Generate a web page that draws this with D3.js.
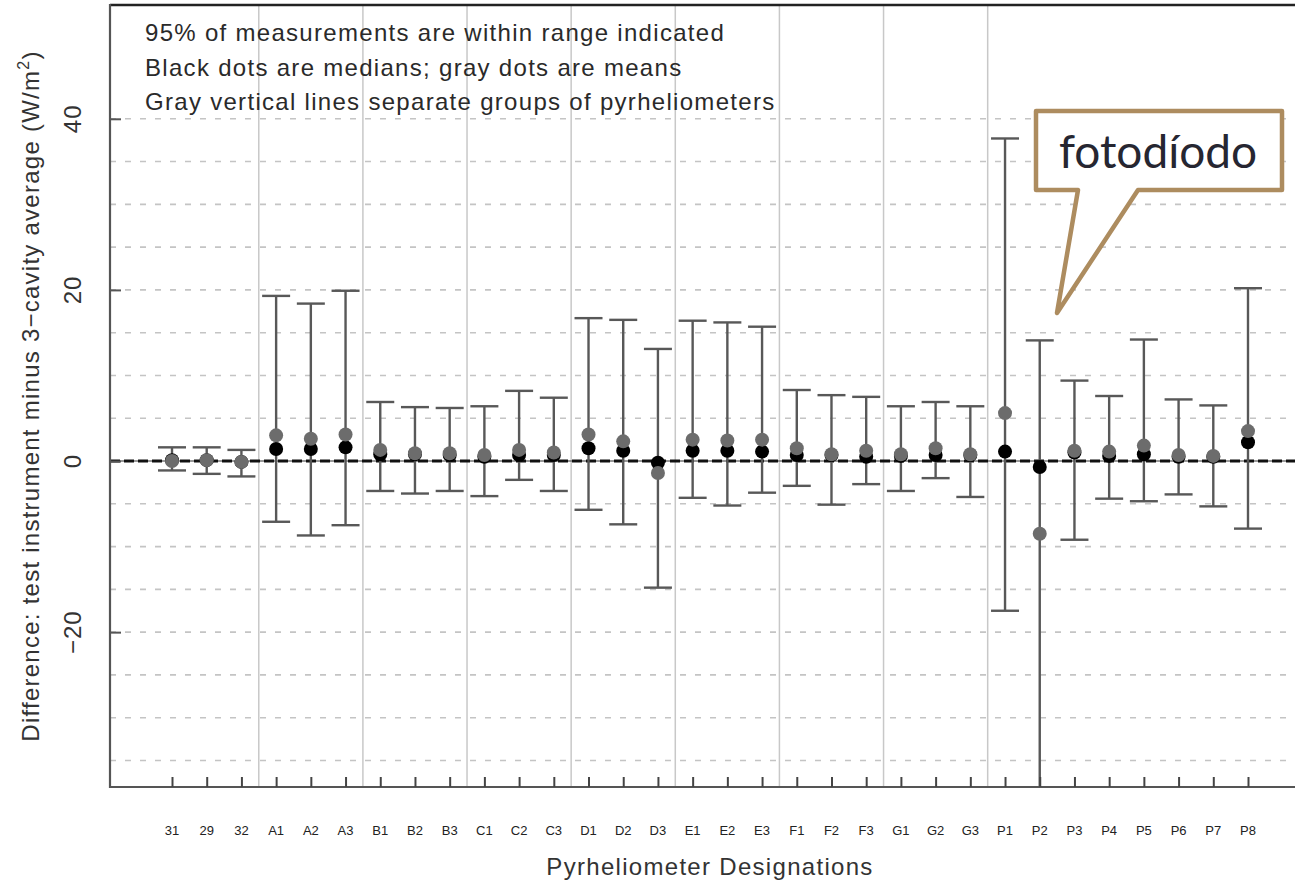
<!DOCTYPE html>
<html>
<head>
<meta charset="utf-8">
<script src="https://cdn.jsdelivr.net/npm/d3@7"></script>
<style>
  body { margin: 0; background: #fff; }
  svg { display: block; }
</style>
</head>
<body>
<svg id="chart" width="1295" height="883"></svg>
<script>
// pyrheliometer designations, in plot order
var designations = ["31", "29", "32", "A1", "A2", "A3", "B1", "B2", "B3", "C1", "C2", "C3",
  "D1", "D2", "D3", "E1", "E2", "E3", "F1", "F2", "F3", "G1", "G2", "G3",
  "P1", "P2", "P3", "P4", "P5", "P6", "P7", "P8"];
var groups = ["ref", "ref", "ref", "A", "A", "A", "B", "B", "B", "C", "C", "C",
  "D", "D", "D", "E", "E", "E", "F", "F", "F", "G", "G", "G",
  "P", "P", "P", "P", "P", "P", "P", "P"];
// 95% range (W/m2)
var upper = [1.6, 1.6, 1.3, 19.3, 18.4, 19.9, 6.9, 6.3, 6.2, 6.4, 8.2, 7.4,
  16.7, 16.5, 13.1, 16.4, 16.2, 15.7, 8.3, 7.7, 7.5, 6.4, 6.9, 6.4,
  37.7, 14.1, 9.4, 7.6, 14.2, 7.2, 6.5, 20.2];
var lower = [-1.1, -1.5, -1.8, -7.1, -8.7, -7.5, -3.5, -3.8, -3.5, -4.1, -2.2, -3.5,
  -5.7, -7.4, -14.8, -4.3, -5.2, -3.7, -2.9, -5.1, -2.7, -3.5, -2.0, -4.2,
  -17.5, -45, -9.2, -4.4, -4.7, -3.9, -5.3, -7.9];
var medians = [0.1, 0.1, -0.1, 1.4, 1.4, 1.6, 0.8, 0.8, 0.7, 0.5, 0.7, 0.7,
  1.5, 1.2, -0.2, 1.2, 1.2, 1.1, 0.7, 0.7, 0.5, 0.6, 0.7, 0.7,
  1.1, -0.7, 1.0, 0.6, 0.8, 0.5, 0.5, 2.2];
var means = [0.0, 0.1, -0.1, 3.0, 2.6, 3.1, 1.3, 0.9, 0.9, 0.7, 1.3, 1.0,
  3.1, 2.3, -1.4, 2.5, 2.4, 2.5, 1.5, 0.8, 1.2, 0.8, 1.5, 0.8,
  5.6, -8.5, 1.2, 1.1, 1.8, 0.7, 0.6, 3.5];
var gridValues = [-35, -30, -25, -20, -15, -10, -5, 5, 10, 15, 20, 25, 30, 35, 40];
var yTickValues = [-20, 0, 20, 40];
var notes = ["95% of measurements are within range indicated",
  "Black dots are medians; gray dots are means",
  "Gray vertical lines separate groups of pyrheliometers"];
var calloutText = "fotodíodo";

var svg = d3.select("#chart");
var plotLeft = 110, plotTop = 5, plotBottom = 787, plotRight = 1310;
var font = "Liberation Sans, Arial, sans-serif";

var x = d3.scalePoint()
  .domain(designations)
  .range([172, 1248]);
var step = x.step();
var y = d3.scaleLinear()
  .domain([-38.1, 53.3])
  .range([plotBottom, plotTop]);

var plot = svg.append("g");
plot.append("defs").append("clipPath").attr("id", "clip")
  .append("rect")
  .attr("x", plotLeft).attr("y", plotTop)
  .attr("width", plotRight - plotLeft).attr("height", plotBottom - plotTop);

// dashed horizontal grid
plot.append("g").selectAll("line")
  .data(gridValues)
  .join("line")
    .attr("x1", plotLeft).attr("x2", plotRight)
    .attr("y1", d => y(d)).attr("y2", d => y(d))
    .attr("stroke", "#c4c4c4")
    .attr("stroke-width", 1.6)
    .attr("stroke-dasharray", "6,9");

// group separators
var seps = [];
for (var i = 1; i < designations.length; i++) {
  if (groups[i] != groups[i - 1]) seps.push(x(designations[i]) - step / 2);
}
plot.append("g").selectAll("line")
  .data(seps)
  .join("line")
    .attr("x1", d => d).attr("x2", d => d)
    .attr("y1", plotTop).attr("y2", plotBottom)
    .attr("stroke", "#c8c8c8")
    .attr("stroke-width", 1.5);

// zero line
plot.append("line")
  .attr("x1", plotLeft).attr("x2", plotRight)
  .attr("y1", y(0)).attr("y2", y(0))
  .attr("stroke", "#777").attr("stroke-width", 1.4);
plot.append("line")
  .attr("x1", plotLeft).attr("x2", plotRight)
  .attr("y1", y(0)).attr("y2", y(0))
  .attr("stroke", "#111").attr("stroke-width", 2.8)
  .attr("stroke-dasharray", "10,4");

// error bars
var bars = plot.append("g").attr("clip-path", "url(#clip)");
var capHalf = 14;
designations.forEach(function(d, i) {
  var cx = x(d);
  bars.append("line")
    .attr("x1", cx).attr("x2", cx)
    .attr("y1", y(upper[i])).attr("y2", y(lower[i]))
    .attr("stroke", "#585858").attr("stroke-width", 2.4);
  [upper[i], lower[i]].forEach(function(v) {
    bars.append("line")
      .attr("x1", cx - capHalf).attr("x2", cx + capHalf)
      .attr("y1", y(v)).attr("y2", y(v))
      .attr("stroke", "#585858").attr("stroke-width", 2.4);
  });
});

bars.append("g").selectAll("circle")
  .data(medians)
  .join("circle")
    .attr("cx", (d, i) => x(designations[i]))
    .attr("cy", d => y(d))
    .attr("r", 7)
    .attr("fill", "#000");
bars.append("g").selectAll("circle")
  .data(means)
  .join("circle")
    .attr("cx", (d, i) => x(designations[i]))
    .attr("cy", d => y(d))
    .attr("r", 7)
    .attr("fill", "#6c6c6c");

// axes frame
plot.append("line")
  .attr("x1", plotLeft).attr("x2", plotRight).attr("y1", plotTop).attr("y2", plotTop)
  .attr("stroke", "#222").attr("stroke-width", 2.5);
plot.append("line")
  .attr("x1", plotLeft).attr("x2", plotLeft).attr("y1", plotTop - 1).attr("y2", plotBottom + 1)
  .attr("stroke", "#555").attr("stroke-width", 2.2);
plot.append("line")
  .attr("x1", plotLeft).attr("x2", plotRight).attr("y1", plotBottom).attr("y2", plotBottom)
  .attr("stroke", "#555").attr("stroke-width", 2.2);

// y axis (inward ticks, rotated labels)
var yAxis = plot.append("g")
  .attr("transform", "translate(" + plotLeft + ",0)")
  .call(d3.axisRight(y).tickValues(yTickValues).tickSize(11).tickFormat(""));
yAxis.select(".domain").remove();
yAxis.selectAll(".tick line").attr("stroke", "#555").attr("stroke-width", 2);
plot.append("g").selectAll("text")
  .data(yTickValues)
  .join("text")
    .attr("transform", d => "translate(81," + y(d) + ") rotate(-90)")
    .attr("text-anchor", "middle")
    .attr("font-family", font)
    .attr("font-size", 24)
    .attr("letter-spacing", 1)
    .attr("fill", "#333")
    .text(d => d < 0 ? "\u2212" + Math.abs(d) : d);

// x axis (inward ticks)
var xAxis = plot.append("g")
  .attr("transform", "translate(0," + plotBottom + ")")
  .call(d3.axisTop(x).tickSize(10).tickFormat(""));
xAxis.select(".domain").remove();
xAxis.selectAll(".tick line").attr("stroke", "#444").attr("stroke-width", 2);
plot.append("g").selectAll("text")
  .data(designations)
  .join("text")
    .attr("x", d => x(d))
    .attr("y", 835)
    .attr("text-anchor", "middle")
    .attr("font-family", font)
    .attr("font-size", 13)
    .attr("fill", "#222")
    .text(d => d);

// axis titles
svg.append("text")
  .attr("x", 710).attr("y", 875)
  .attr("text-anchor", "middle")
  .attr("font-family", font)
  .attr("font-size", 24)
  .attr("letter-spacing", 1.3)
  .attr("fill", "#333")
  .text("Pyrheliometer Designations");
var ytitle = svg.append("text")
  .attr("transform", "translate(39,396) rotate(-90)")
  .attr("text-anchor", "middle")
  .attr("font-family", font)
  .attr("font-size", 24)
  .attr("letter-spacing", 1.25)
  .attr("fill", "#333");
ytitle.append("tspan").text("Difference: test instrument minus 3\u2212cavity average (W/m");
ytitle.append("tspan").attr("dy", -10).attr("font-size", 16).text("2");
ytitle.append("tspan").attr("dy", 10).text(")");

// notes, top-left
svg.append("g").selectAll("text")
  .data(notes)
  .join("text")
    .attr("x", 145)
    .attr("y", (d, i) => 41 + i * 34.5)
    .attr("font-family", font)
    .attr("font-size", 24)
    .attr("letter-spacing", 1.3)
    .attr("fill", "#2a2a2a")
    .text(d => d);

// callout
var callout = svg.append("g");
callout.append("path")
  .attr("d", "M1036,111 H1282 V190 H1138 L1057,313 L1078,190 H1036 Z")
  .attr("fill", "#fff")
  .attr("stroke", "#ad8c5f")
  .attr("stroke-width", 4.5)
  .attr("stroke-linejoin", "round");
callout.append("text")
  .attr("x", 1158).attr("y", 168)
  .attr("text-anchor", "middle")
  .attr("font-family", "Lato, Open Sans, sans-serif")
  .attr("font-size", 46)
  .attr("fill", "#262631")
  .text(calloutText);
</script>
</body>
</html>
